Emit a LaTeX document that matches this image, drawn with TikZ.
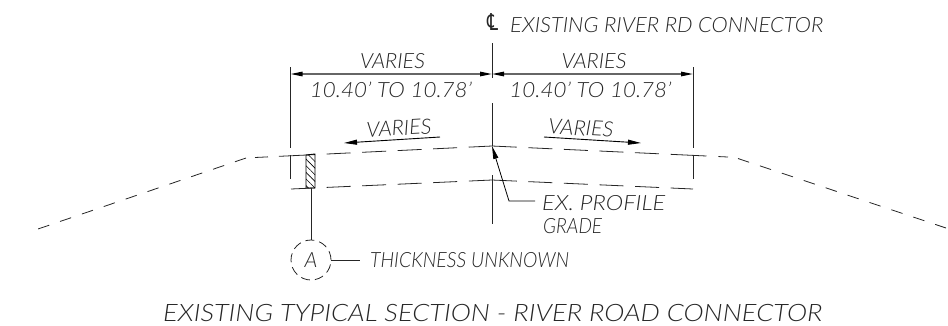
\documentclass[tikz,border=0pt]{standalone}
\usepackage{fontspec}
\setmainfont{Lato Light}[ItalicFont=Lato Light Italic]
\newfontfamily\clfont{DejaVu Sans Oblique}
\usetikzlibrary{arrows.meta,patterns.meta}
\newcommand{\fitted}[2]{\resizebox{#1}{\height}{#2}}
\tikzset{
    thin line/.style={line width=0.8pt,black!85},
    dim line/.style={line width=1.3pt,black!60,{Triangle[length=12pt,width=4.5pt,black]}-{Triangle[length=12pt,width=4.5pt,black]}},
    flow line/.style={line width=0.9pt,-{Triangle[length=13pt,width=5pt]}},
    grade line/.style={thin line,dash pattern=on 13pt off 11pt on 36pt off 11.6pt on 24pt off 11.6pt on 24pt off 11.6pt on 24pt off 11.6pt on 24pt off 11.6pt on 48pt off 11.6pt on 24pt off 11.6pt on 24pt off 11.6pt on 24pt off 11.6pt on 24pt off 11.6pt on 36pt off 12pt on 11pt off 12pt},
    base line/.style={thin line,dash pattern=on 24pt off 11.6pt on 24pt off 11.6pt on 24pt off 11.6pt on 24pt off 11.6pt on 24pt off 11.6pt on 48pt off 11.6pt on 24pt off 11.6pt on 24pt off 11.6pt on 24pt off 11.6pt on 24pt off 11.6pt on 24pt off 11.6pt},
    slope line/.style={thin line,dash pattern=on 11.7pt off 11.4pt},
    label/.style={inner sep=0pt,font=\fontsize{21}{21}\selectfont\itshape,text=black!85},
    title label/.style={label,font=\fontsize{24}{24}\selectfont\itshape}
}
\begin{document}
\begin{tikzpicture}[x=1pt,y=-1pt]
    \useasboundingbox (0,0) rectangle (948,325);

    % centre line and extension lines
    \coordinate (cltop) at (492,43);
    \coordinate (clmid) at (492,78);
    \coordinate (crown) at (492,146);
    \coordinate (crownlow) at (492,180);
    \coordinate (leftdim) at (290.5,74);
    \coordinate (rightdim) at (693,74);
    \coordinate (centerdim) at (492,74);
    \draw[thin line] (cltop) -- (clmid);
    \draw[thin line] (492,103) -- (crown);
    \draw[thin line] (492,175) -- (492,224);
    \draw[thin line] (290.5,67) -- (290.5,148);
    \draw[thin line] (290.5,155) -- (290.5,179);
    \draw[thin line] (693,67) -- (693,148);
    \draw[thin line] (693,155) -- (693,179);

    % dimensions
    \draw[dim line] (leftdim) -- (centerdim);
    \draw[dim line] (centerdim) -- (rightdim);

    % road lines
    \coordinate (lefthinge) at (255,157.5);
    \coordinate (righthinge) at (728,157);
    \draw[grade line] (lefthinge) -- (crown) -- (righthinge);
    \draw[base line] (291,189) -- (crownlow) -- (693,189);
    \draw[slope line] (246,158) -- (38,229);
    \draw[slope line] (738,158.5) -- (946,228);

    % hatched edge
    \draw[line width=0.9pt,pattern={Lines[angle=-45,distance=4.7pt,line width=0.6pt]}]
        (306,155) -- (315,154) -- (315,188) -- (306,188) -- cycle;

    % slope arrows
    \coordinate (leftflow) at (440,137);
    \coordinate (rightflow) at (544,137);
    \draw[flow line] (leftflow) -- (344,143);
    \draw[flow line] (rightflow) -- (641,143);

    % labels
    \node[label,anchor=base west] (cltext) at (510,32) {\fitted{313pt}{EXISTING RIVER RD CONNECTOR}};
    \node[label,anchor=base] (clmark) at (492.5,30) {\resizebox{11pt}{17pt}{\clfont ℄}};
    \node[label] (varyl) at (392.5,61) {\fitted{65pt}{VARIES}};
    \node[label] (varyr) at (594,61) {\fitted{65pt}{VARIES}};
    \node[label] (widthl) at (391,90) {\fitted{162pt}{10.40' TO 10.78'}};
    \node[label] (widthr) at (590.5,90) {\fitted{162pt}{10.40' TO 10.78'}};
    \node[label,rotate=3] (flowl) at (399,128) {\fitted{65pt}{VARIES}};
    \node[label,rotate=-3] (flowr) at (581,128) {\fitted{65pt}{VARIES}};

    % leaders
    \node[label,anchor=base west] (profile) at (542,210) {\fitted{123pt}{EX. PROFILE}};
    \node[label,anchor=base west] (grade) at (543,233) {\fitted{59pt}{GRADE}};
    \coordinate (elbow) at (509,201);
    \coordinate (elbowend) at (535,201);
    \draw[line width=0.8pt,-{Triangle[length=13pt,width=5pt]}] (elbowend) -- (elbow) -- (crown);

    \node[draw,circle,minimum size=40pt,inner sep=0pt,thin line,dash pattern=on 9pt off 5pt,label] (detail) at (311,260) {A};
    \draw[thin line] (311,188) -- (detail.north);
    \node[label,anchor=west] (thick) at (370,260) {\fitted{199pt}{THICKNESS UNKNOWN}};
    \draw[thin line] (detail.east) -- (360,260);

    % title
    \node[title label,anchor=base west] (title) at (163,321) {\fitted{659pt}{EXISTING TYPICAL SECTION - RIVER ROAD CONNECTOR}};
\end{tikzpicture}
\end{document}
